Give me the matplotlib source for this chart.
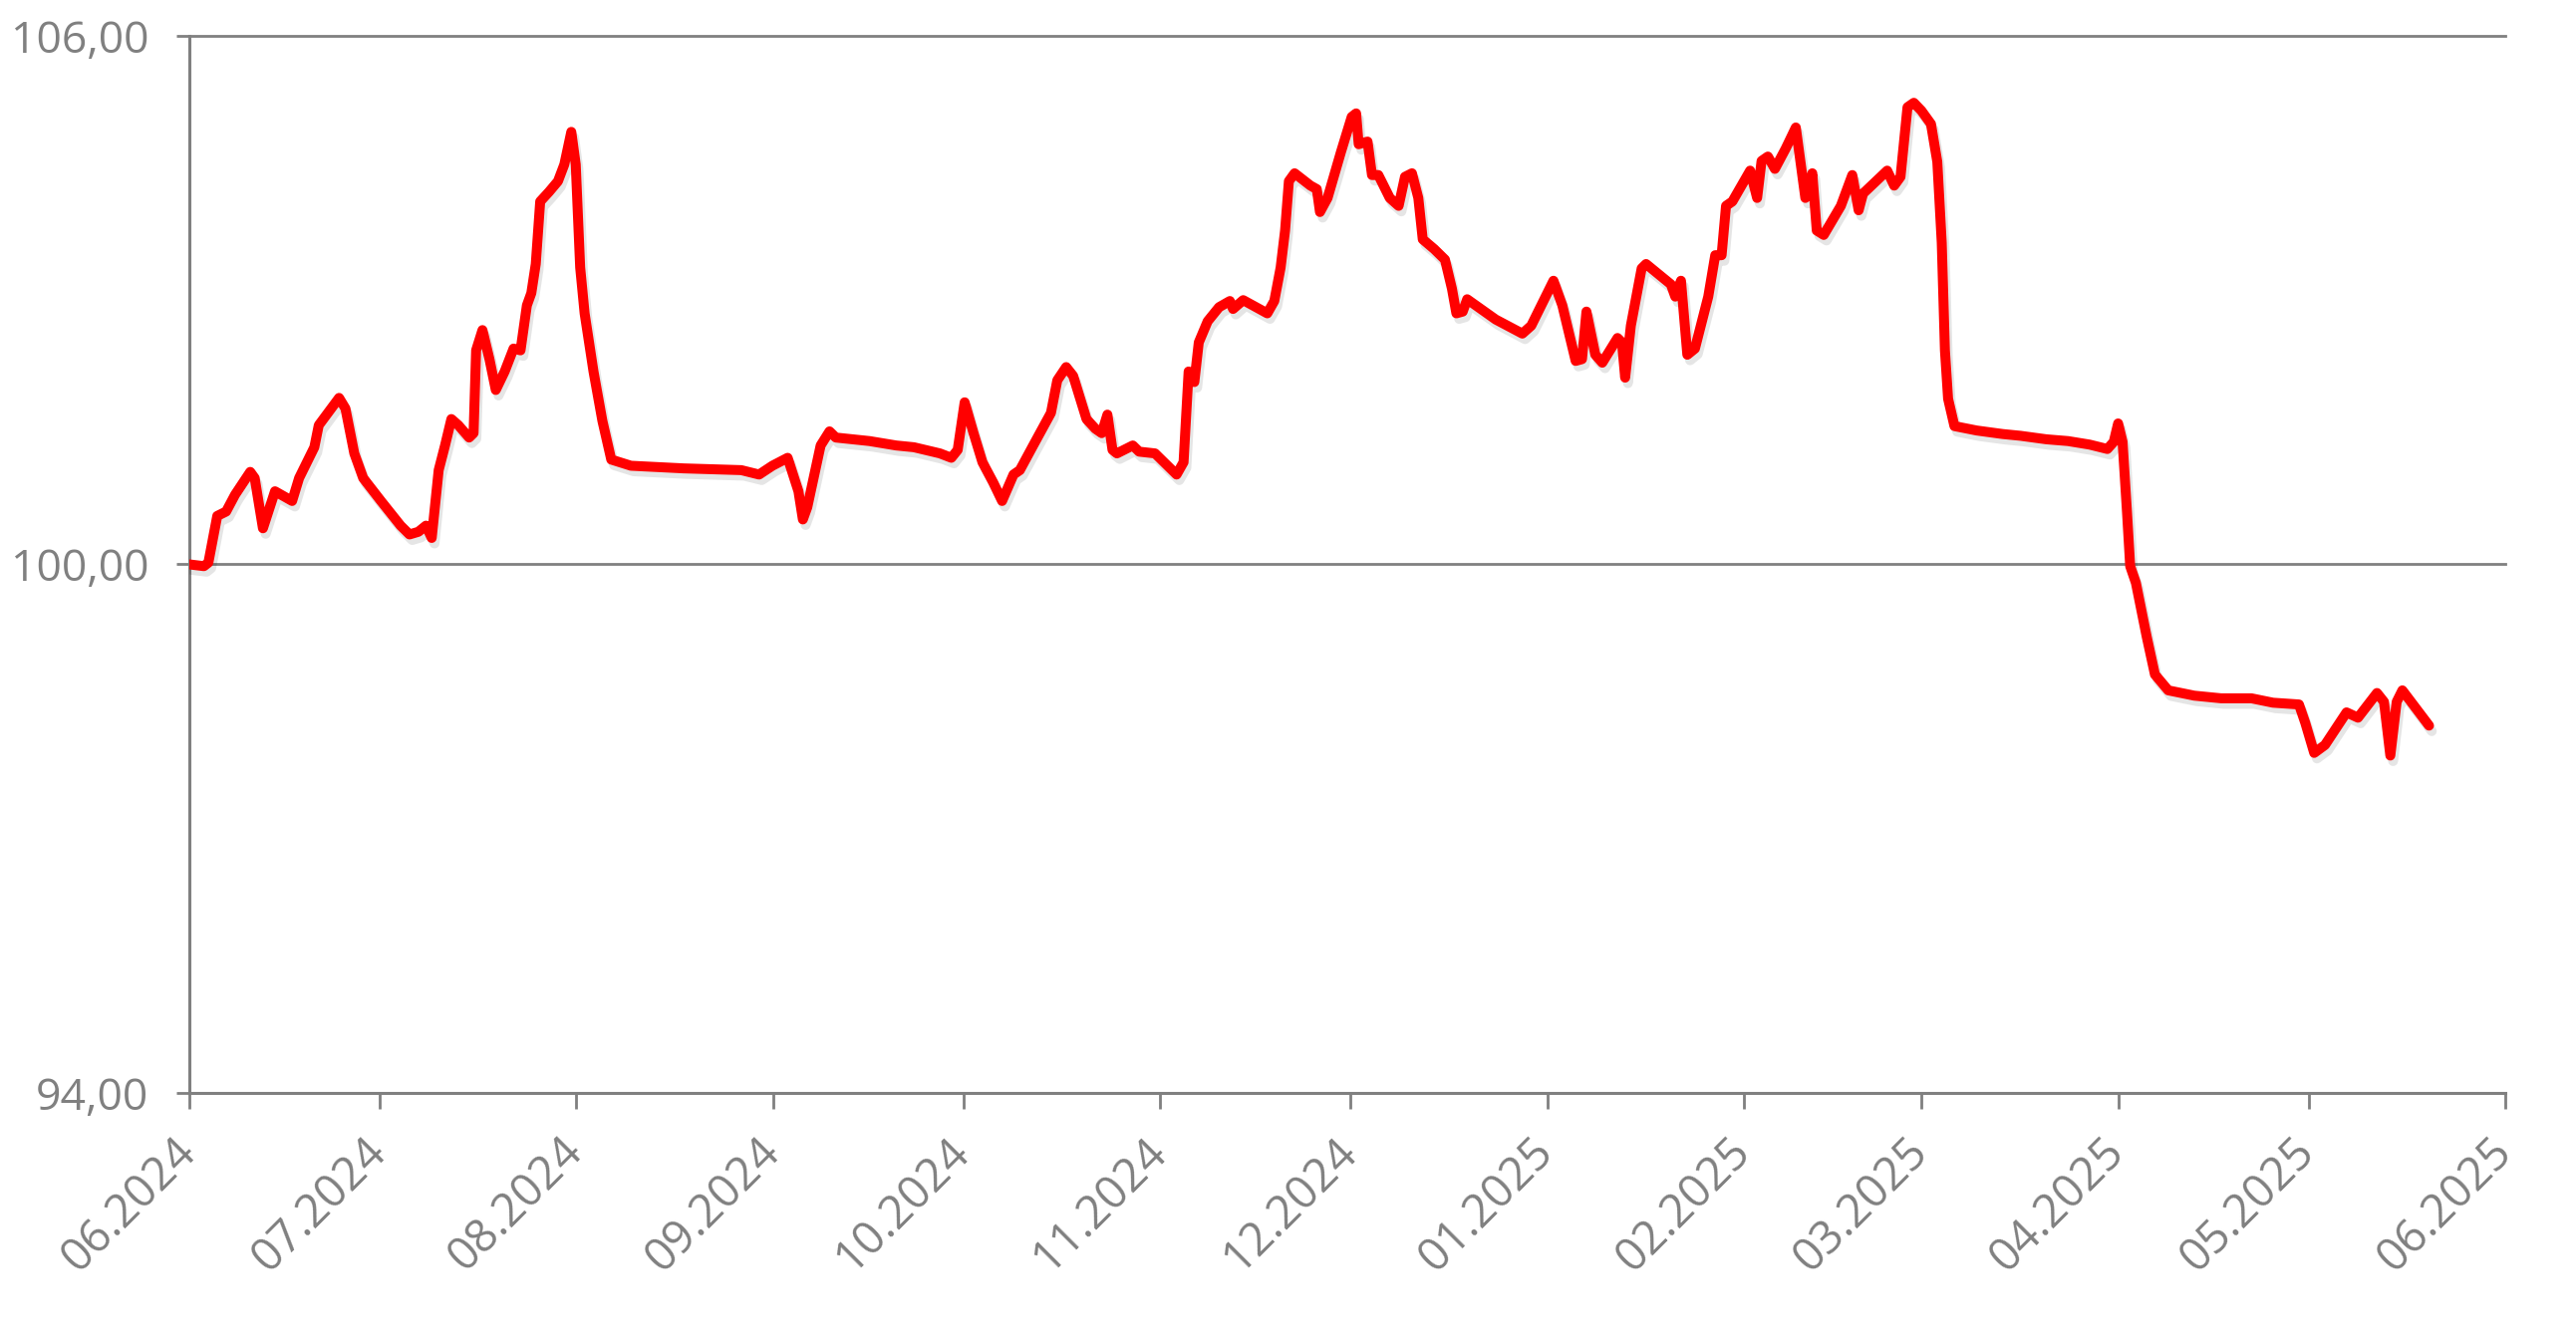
import numpy as np
import matplotlib
matplotlib.use("Agg")
import matplotlib.pyplot as plt
import matplotlib.dates as mdates
import matplotlib.patheffects as pe

plt.rcParams["font.family"] = ["Open Sans", "DejaVu Sans"]

start_date = "2024-06-01"

day_offsets = [
    0, 2.3, 3.0, 4.4, 5.8, 7.2, 9.6, 10.3, 11.6, 13.5, 16.2, 17.3, 19.7, 20.4,
    23.6, 24.6, 26.0, 27.4, 30.2, 33.3, 34.7, 36.1, 37.3, 38.2, 39.3, 40.3,
    41.3, 42.4, 44.1, 44.8, 45.2, 46.2, 47.3, 48.3, 49.7, 51.1, 52.2, 53.2,
    53.9, 54.6, 55.3, 56.7, 58.1, 59.1, 60.2, 60.9, 61.6, 62.3, 63.7, 65.1,
    66.5, 69.6, 77.9, 87.0, 89.8, 91.9, 94.3, 96.0, 96.7, 97.4, 99.5, 100.9,
    101.9, 107.2, 111.4, 114.2, 118.3, 120.1, 121.1, 122.2, 123.6, 125.0,
    126.7, 128.1, 129.9, 130.9, 133.0, 135.8, 136.8, 138.2, 139.3, 141.4,
    142.8, 143.8, 144.7, 145.5, 146.2, 148.7, 149.7, 152.2, 153.9, 155.6,
    156.7, 157.5, 158.4, 159.1, 160.5, 162.3, 164.0, 164.5, 166.1, 169.9,
    171.0, 172.0, 172.7, 173.3, 174.2, 176.7, 177.7, 178.2, 179.4, 181.5,
    183.2, 183.9, 184.3, 185.7, 186.4, 187.4, 189.2, 190.6, 191.6, 192.7,
    193.7, 194.4, 196.2, 197.9, 199.0, 199.7, 200.7, 201.4, 205.9, 210.1,
    211.5, 215.0, 216.4, 218.5, 219.5, 220.2, 221.6, 222.7, 225.1, 225.8,
    226.3, 227.2, 228.9, 229.6, 233.5, 234.2, 235.1, 236.1, 237.3, 239.4,
    240.5, 241.5, 242.2, 243.2, 246.0, 247.1, 247.8, 248.8, 249.9, 251.6,
    253.2, 254.7, 255.8, 256.5, 257.6, 260.3, 262.1, 263.1, 263.8, 267.6,
    268.7, 269.7, 270.8, 271.8, 273.0, 274.5, 275.5, 276.2, 276.7, 277.2,
    278.2, 281.7, 285.8, 288.6, 292.7, 296.1, 299.5, 302.3, 303.3, 304.0,
    304.7, 305.4, 305.9, 306.8, 308.5, 309.8, 311.9, 316.0, 320.2, 325.0,
    328.4, 332.5, 333.5, 334.9, 336.6, 340.0, 341.8, 344.8, 345.9, 346.9,
    347.9, 348.8, 353.0,
]

values = [
    100.00, 99.98, 100.02, 100.55, 100.60, 100.79, 101.05, 100.98, 100.41,
    100.83, 100.72, 100.98, 101.33, 101.58, 101.89, 101.77, 101.26, 100.98,
    100.72, 100.44, 100.34, 100.37, 100.44, 100.30, 101.07, 101.35, 101.65,
    101.58, 101.44, 101.49, 102.43, 102.66, 102.33, 101.98, 102.19, 102.45,
    102.43, 102.94, 103.08, 103.41, 104.12, 104.23, 104.35, 104.54, 104.91,
    104.54, 103.37, 102.85, 102.19, 101.63, 101.19, 101.12, 101.09, 101.07,
    101.02, 101.12, 101.21, 100.83, 100.51, 100.65, 101.35, 101.51, 101.44,
    101.40, 101.35, 101.33, 101.26, 101.21, 101.30, 101.84, 101.49, 101.16,
    100.93, 100.72, 101.02, 101.07, 101.35, 101.72, 102.09, 102.24, 102.14,
    101.65, 101.54, 101.49, 101.70, 101.30, 101.26, 101.35, 101.28, 101.26,
    101.14, 101.02, 101.16, 102.19, 102.07, 102.52, 102.76, 102.92, 102.99,
    102.90, 103.00, 102.85, 102.99, 103.37, 103.79, 104.35, 104.44, 104.30,
    104.26, 104.00, 104.16, 104.68, 105.08, 105.12, 104.77, 104.80, 104.42,
    104.42, 104.16, 104.07, 104.40, 104.44, 104.16, 103.69, 103.58, 103.46,
    103.13, 102.85, 102.87, 103.01, 102.78, 102.62, 102.71, 103.22, 102.94,
    102.31, 102.33, 102.87, 102.38, 102.29, 102.57, 102.52, 102.12, 102.71,
    103.36, 103.41, 103.18, 103.04, 103.22, 102.38, 102.45, 103.04, 103.51,
    103.51, 104.07, 104.12, 104.47, 104.16, 104.58, 104.63, 104.49, 104.72,
    104.96, 104.16, 104.44, 103.79, 103.74, 104.07, 104.42, 104.02, 104.21,
    104.47, 104.30, 104.40, 105.19, 105.24, 105.15, 105.00, 104.57, 103.65,
    102.43, 101.88, 101.57, 101.52, 101.48, 101.46, 101.42, 101.40, 101.36,
    101.31, 101.39, 101.60, 101.39, 100.59, 99.98, 99.79, 99.18, 98.75,
    98.57, 98.51, 98.48, 98.48, 98.43, 98.41, 98.20, 97.86, 97.95, 98.32,
    98.26, 98.54, 98.44, 97.83, 98.44, 98.57, 98.17,
]

month_ticks = [
    "2024-06-01", "2024-07-01", "2024-08-01", "2024-09-01", "2024-10-01",
    "2024-11-01", "2024-12-01", "2025-01-01", "2025-02-01", "2025-03-01",
    "2025-04-01", "2025-05-01", "2025-06-01",
]
month_labels = [
    "06.2024", "07.2024", "08.2024", "09.2024", "10.2024", "11.2024",
    "12.2024", "01.2025", "02.2025", "03.2025", "04.2025", "05.2025",
    "06.2025",
]
y_ticks = [94, 100, 106]
y_labels = ["94,00", "100,00", "106,00"]

GRAY = "#808080"

fig = plt.figure(figsize=(25.85, 13.48), dpi=100)
ax = fig.add_axes([0.0735, 0.1862, 0.899, 0.7871])

x0 = mdates.date2num(np.datetime64(start_date))
x = x0 + np.array(day_offsets)
ax.plot(x, values, color="#ff0000", lw=7.2, solid_joinstyle="round",
        solid_capstyle="round", zorder=3,
        path_effects=[pe.SimpleLineShadow(offset=(2, -4), shadow_color="black",
                                          alpha=0.10, rho=1.0),
                      pe.Normal()])

tick_pos = [mdates.date2num(np.datetime64(d)) for d in month_ticks]
ax.set_xlim(tick_pos[0], tick_pos[-1])
ax.set_ylim(94, 106)
ax.set_xticks(tick_pos)
ax.set_xticklabels(month_labels, rotation=45, ha="right", va="center",
                   rotation_mode="anchor")
ax.set_yticks(y_ticks)
ax.set_yticklabels(y_labels)

for yv in y_ticks[1:]:
    ax.axhline(yv, color=GRAY, lw=2.0, zorder=1, clip_on=False)

for s in ["top", "right"]:
    ax.spines[s].set_visible(False)
for s in ["left", "bottom"]:
    ax.spines[s].set_color(GRAY)
    ax.spines[s].set_linewidth(2.2)

ax.tick_params(axis="x", colors=GRAY, labelsize=33, length=11.5, width=2.0,
               pad=26, labelcolor=GRAY)
ax.tick_params(axis="y", colors=GRAY, labelsize=32, length=9.5, width=2.0,
               pad=20, labelcolor=GRAY)

fig.savefig("out.png", dpi=100, facecolor="white")
